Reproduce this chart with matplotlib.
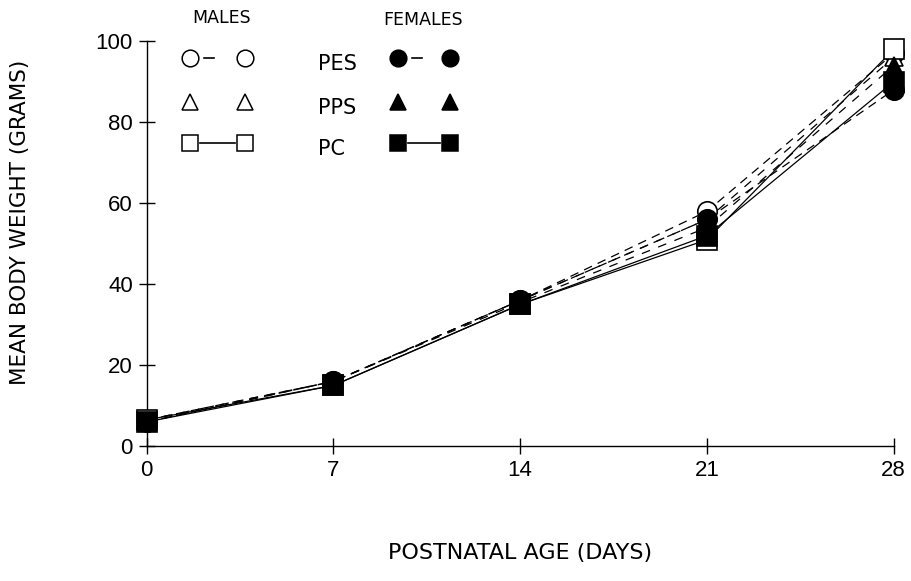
import matplotlib.pyplot as plt
from matplotlib.lines import Line2D

days = [0, 7, 14, 21, 28]

# mean body weight (g)
male_pes = [6.5, 16, 36, 58, 97]
male_pps = [6.5, 16, 36, 56, 96]
male_pc = [6.5, 15, 35, 51, 98]
female_pes = [6, 16, 36, 56, 88]
female_pps = [6, 16, 35.5, 54, 94]
female_pc = [6, 15, 35, 52, 90]

groups = ["PES", "PPS", "PC"]
markers = {"PES": "o", "PPS": "^", "PC": "s"}
styles = {"PES": (0, (7, 5)), "PPS": (0, (7, 7)), "PC": "-"}

fig = plt.figure(figsize=(9.11, 5.81), dpi=100)
ax = fig.add_axes([0.161, 0.232, 0.82, 0.697])

series = [
    (male_pes, "PES", "white"), (male_pps, "PPS", "white"), (male_pc, "PC", "white"),
    (female_pes, "PES", "black"), (female_pps, "PPS", "black"), (female_pc, "PC", "black"),
]

for vals, g, face in series:
    ax.plot(days, vals, color="black", lw=0.9, ls=styles[g], zorder=2)
for vals, g, face in series:
    ms = 14 if g != "PPS" else 13
    ax.plot(days, vals, ls="none", marker=markers[g], ms=ms, mfc=face,
            mec="black", mew=1.2, clip_on=False, zorder=3 if face == "white" else 4)

ax.set_xlim(0, 28)
ax.set_ylim(0, 100)
ax.set_xticks(days)
ax.set_yticks([0, 20, 40, 60, 80, 100])
for s in ["top", "right"]:
    ax.spines[s].set_visible(False)
for s in ["left", "bottom"]:
    ax.spines[s].set_linewidth(1.0)
ax.tick_params(direction="inout", length=12, width=1.0, labelsize=16, pad=4)
for lab in ax.get_xticklabels() + ax.get_yticklabels():
    lab.set_fontfamily("Liberation Sans")

fig.text(0.022, 0.618, "MEAN BODY WEIGHT (GRAMS)", rotation=90, ha="center", va="center",
         fontsize=15.5)
fig.text(0.571, 0.048, "POSTNATAL AGE (DAYS)", ha="center", va="center", fontsize=16)

# hand-built legend
def fx(px):
    return px / 911

def fy(py):
    return 1 - py / 581

fig.text(fx(222), fy(18), "MALES", ha="center", va="center", fontsize=12.5)
fig.text(fx(423), fy(20), "FEMALES", ha="center", va="center", fontsize=12.5)
rows = {"PES": 58, "PPS": 102, "PC": 143}
for g in groups:
    y = fy(rows[g])
    fig.text(fx(318), fy(rows[g] + 6), g, ha="left", va="center", fontsize=15)
    for x0, x1, face in [(190, 245, "white"), (398, 450, "black")]:
        if g == "PES":
            seg = Line2D([fx(x0 + 14), fx(x0 + 24)], [y, y], color="black", lw=1.2)
            fig.add_artist(seg)
        if g == "PC":
            seg = Line2D([fx(x0 + 10), fx(x1 - 10)], [y, y], color="black", lw=1.2)
            fig.add_artist(seg)
        for x in (x0, x1):
            fig.add_artist(Line2D([fx(x)], [y], ls="none", marker=markers[g], ms=12,
                                  mfc=face, mec="black", mew=1.1))

fig.savefig("out.png", dpi=100)
